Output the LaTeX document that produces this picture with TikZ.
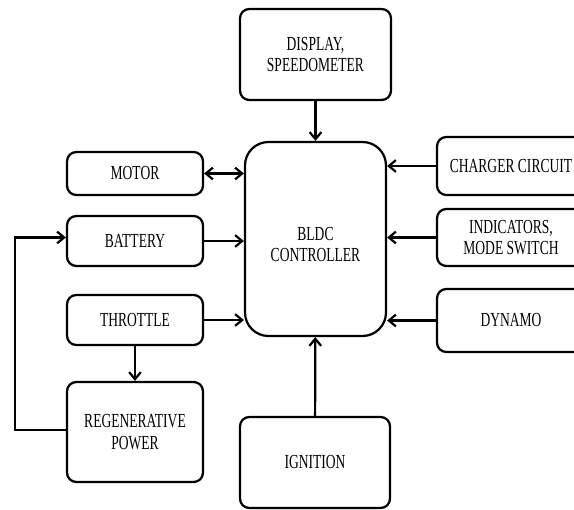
\documentclass[tikz,border=0pt]{standalone}
\usepackage{fontspec}
\setmainfont{Liberation Serif}[FakeStretch=0.68]
\usetikzlibrary{arrows.meta}
\tikzset{
	blk/.style={draw, line width=1.9pt, rounded corners=8pt, align=center, inner sep=0pt,
		font=\fontsize{17}{18.5}\selectfont},
	barb/.tip={Straight Barb[length=6pt,width=10pt,line width=1.9pt]},
	link/.style={line width=1.9pt, -barb}
}

\begin{document}
\begin{tikzpicture}[x=0.03cm, y=-0.03cm]
			%%%%% START %%%%%
			\useasboundingbox (0, 0) rectangle (574, 510);
			
			\node[blk, minimum width=141*0.03cm, minimum height=194*0.03cm, rounded corners=20pt] (ctrl) at (315.5, 239) {\\[2pt]BLDC\\CONTROLLER};
			\node[blk, minimum width=151*0.03cm, minimum height=91*0.03cm] (disp) at (315.5, 54.5) {DISPLAY,\\SPEEDOMETER};
			\node[blk, minimum width=150*0.03cm, minimum height=91*0.03cm] (ign) at (315, 462.5) {IGNITION};
			
			\node[blk, minimum width=136*0.03cm, minimum height=43*0.03cm] (motor) at (135, 173.5) {MOTOR};
			\node[blk, minimum width=136*0.03cm, minimum height=50*0.03cm] (batt) at (135, 241) {BATTERY};
			\node[blk, minimum width=136*0.03cm, minimum height=50*0.03cm] (thr) at (135, 320) {THROTTLE};
			\node[blk, minimum width=136*0.03cm, minimum height=100*0.03cm] (regen) at (135, 432) {REGENERATIVE\\POWER};
			
			\node[blk, minimum width=148*0.03cm, minimum height=58*0.03cm] (chg) at (511, 166) {CHARGER CIRCUIT};
			\node[blk, minimum width=148*0.03cm, minimum height=57*0.03cm] (ind) at (511, 237.5) {INDICATORS,\\MODE SWITCH};
			\node[blk, minimum width=148*0.03cm, minimum height=63*0.03cm] (dyn) at (511, 320.5) {DYNAMO};
			
			\coordinate (loop) at (15, 430);
			
			\draw[link] (disp) -- (ctrl);
			\draw[link] (ign) -- (ctrl);
			\draw[link, barb-barb] (motor.east) -- (ctrl.west |- motor.east);
			\draw[link] (batt.east) -- (ctrl.west |- batt.east);
			\draw[link] (thr.east) -- (ctrl.west |- thr.east);
			\draw[link] (thr) -- (regen);
			\draw[link] (regen.west |- loop) -- (loop) |- ([yshift=3pt]batt.west);
			
			\draw[link] (chg.west) -- (ctrl.east |- chg.west);
			\draw[link] (ind.west) -- (ctrl.east |- ind.west);
			\draw[link] (dyn.west) -- (ctrl.east |- dyn.west);
			%%%%% END %%%%%
		\end{tikzpicture}
\end{document}
